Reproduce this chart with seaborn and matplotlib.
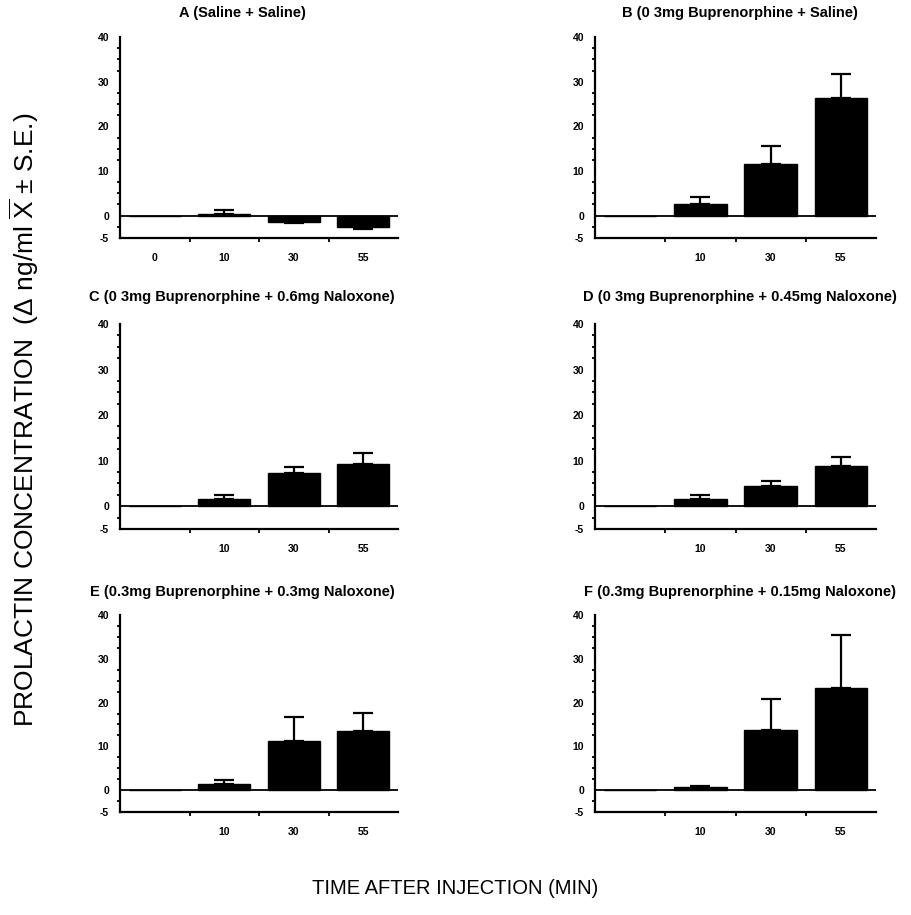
import matplotlib
matplotlib.use("Agg")
import matplotlib.pyplot as plt
import seaborn as sns
import numpy as np
import pandas as pd
from matplotlib.ticker import MultipleLocator, FixedLocator

sns.set_theme(style="white")
plt.rcParams['font.family'] = ['Liberation Sans', 'DejaVu Sans']
plt.rcParams['mathtext.fontset'] = 'custom'
plt.rcParams['mathtext.rm'] = 'Liberation Sans'
plt.rcParams['text.color'] = 'black'
plt.rcParams['xtick.color'] = 'black'
plt.rcParams['ytick.color'] = 'black'
plt.rcParams['axes.labelcolor'] = 'black'

times = ["0", "10", "30", "55"]

titles = [
    "A (Saline + Saline)",
    "B (0 3mg Buprenorphine + Saline)",
    "C (0 3mg Buprenorphine + 0.6mg Naloxone)",
    "D (0 3mg Buprenorphine + 0.45mg Naloxone)",
    "E (0.3mg Buprenorphine + 0.3mg Naloxone)",
    "F (0.3mg Buprenorphine + 0.15mg Naloxone)",
]

means_A = [0.0, 0.4, -1.4, -2.6]
means_B = [0.0, 2.7, 11.6, 26.3]
means_C = [0.0, 1.5, 7.2, 9.3]
means_D = [0.0, 1.5, 4.5, 8.9]
means_E = [0.0, 1.4, 11.3, 13.5]
means_F = [0.0, 0.8, 13.8, 23.3]

se_A = [0.0, 0.8, 0.3, 0.4]
se_B = [0.0, 1.4, 4.0, 5.4]
se_C = [0.0, 0.9, 1.3, 2.3]
se_D = [0.0, 0.9, 1.1, 2.0]
se_E = [0.0, 0.9, 5.5, 4.2]
se_F = [0.0, 0.2, 6.9, 12.2]

means = [means_A, means_B, means_C, means_D, means_E, means_F]
ses = [se_A, se_B, se_C, se_D, se_E, se_F]

W, H = 911, 915
fig = plt.figure(figsize=(W / 100, H / 100), dpi=100)

col_x = [(120, 398), (595, 876)]
row_y = [(37, 238), (324, 529), (615, 812)]
title_y = [13, 297, 592]
title_x = [242, 740]

for i in range(6):
    r, c = divmod(i, 2)
    x0, x1 = col_x[c]
    y0, y1 = row_y[r]
    ax = fig.add_axes([x0 / W, 1 - y1 / H, (x1 - x0) / W, (y1 - y0) / H])
    df = pd.DataFrame({"time": times, "value": means[i]})
    sns.barplot(data=df, x="time", y="value", order=times, color="black",
                width=0.75, errorbar=None, ax=ax, saturation=1)
    for p in ax.patches:
        p.set_edgecolor("black")
    vals = np.array(means[i])
    err = np.array(ses[i])
    upper = np.where(vals >= 0, err, 0)
    lower = np.where(vals < 0, err, 0)
    pos = np.arange(len(times))
    mask = err > 0
    ax.errorbar(pos[mask], vals[mask], yerr=[lower[mask], upper[mask]], fmt="none",
                ecolor="black", elinewidth=1.6, capsize=7, capthick=1.6)
    ax.axhline(0, color="black", lw=1.3, zorder=0.5)
    ax.set_xlim(-0.5, 3.5)
    ax.set_ylim(-5, 40)
    ax.set_xlabel("")
    ax.set_ylabel("")
    for s in ["top", "right"]:
        ax.spines[s].set_visible(False)
    for s in ["left", "bottom"]:
        ax.spines[s].set_linewidth(1.6)
        ax.spines[s].set_color("black")
    ax.yaxis.set_major_locator(FixedLocator([-5, 0, 10, 20, 30, 40]))
    ax.yaxis.set_minor_locator(MultipleLocator(2.5))
    ax.set_yticklabels(["-5", "0", "10", "20", "30", "40"], fontsize=7.5, fontweight="bold")
    ax.tick_params(axis="y", which="major", direction="out", length=4, width=1.5, color="black", pad=4)
    ax.tick_params(axis="y", which="minor", direction="out", length=2.5, width=1.3, color="black", left=True)
    ax.set_xticks(pos)
    labels = times if i == 0 else [""] + times[1:]
    ax.set_xticklabels(labels, fontsize=7.5, fontweight="bold")
    ax.xaxis.set_minor_locator(FixedLocator([0.5, 1.5, 2.5]))
    ax.tick_params(axis="x", which="major", length=0, pad=11)
    ax.tick_params(axis="x", which="minor", direction="out", length=3, width=1.3, color="black", bottom=True)
    ax.set_facecolor("white")
    fig.text(title_x[c] / W, 1 - title_y[r] / H, titles[i], ha="center", va="center",
             fontsize=10.5, fontweight="bold")

fig.text(24 / W, 1 - 420 / H,
         r"PROLACTIN CONCENTRATION  ($\Delta$ ng/ml $\overline{\mathrm{X}}$ $\pm$ S.E.)",
         rotation=90, ha="center", va="center", fontsize=19)
fig.text(455 / W, 1 - 888 / H, "TIME AFTER INJECTION (MIN)", ha="center", va="center",
         fontsize=14.5)

fig.savefig("out.png", dpi=100, facecolor="white")
